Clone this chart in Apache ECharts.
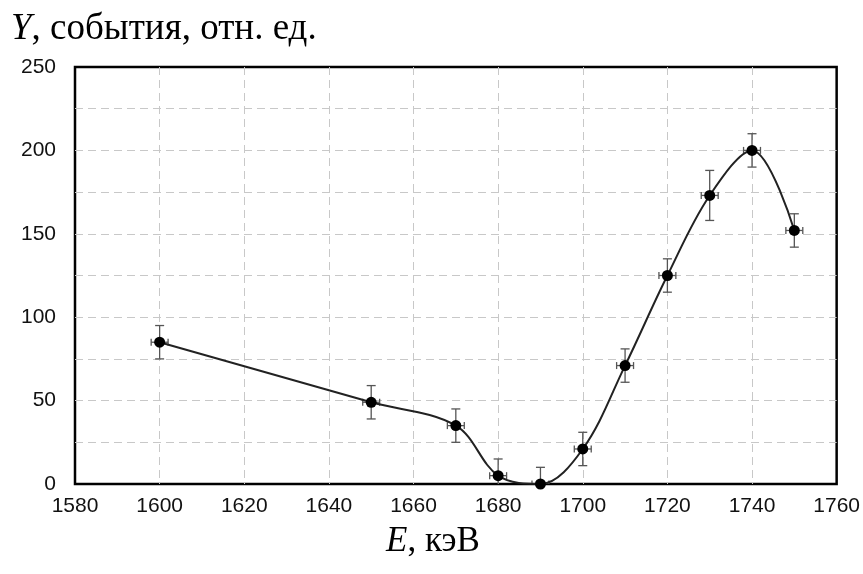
<!DOCTYPE html>
<html>
<head>
<meta charset="utf-8">
<script src="https://cdn.jsdelivr.net/npm/echarts@6/dist/echarts.min.js"></script>
<style>
  html, body { margin: 0; padding: 0; background: #fff; }
  #chart { width: 863px; height: 574px; }
</style>
</head>
<body>
<div id="chart"></div>
<script>
// Energy points (keV), yields (relative units) and their uncertainties
const energies = [1600, 1650, 1670, 1680, 1690, 1700, 1710, 1720, 1730, 1740, 1750];
const yields   = [85, 49, 35, 5, 0, 21, 71, 125, 173, 200, 152];
const yErrors  = [10, 10, 10, 10, 10, 10, 10, 10, 15, 10, 10];
const xErrors  = [2, 2, 2, 2, 2, 2, 2, 2, 2, 2, 2];

const xTicks = { min: 1580, max: 1760, step: 20 };
const yTicks = { min: 0, max: 250, step: 25, labelStep: 50 };

const lineData = energies.map((e, i) => [e, yields[i]]);
const errData = energies.map((e, i) => [e, yields[i], xErrors[i], yErrors[i]]);

const chart = echarts.init(document.getElementById('chart'), null, { renderer: 'canvas' });

const serif = '"Liberation Serif", "Times New Roman", serif';
const sans = '"Liberation Sans", Arial, sans-serif';

function renderErrorBar(params, api) {
  const x = api.value(0), y = api.value(1), ex = api.value(2), ey = api.value(3);
  const top = api.coord([x, y + ey]);
  const bot = api.coord([x, y - ey]);
  const left = api.coord([x - ex, y]);
  const right = api.coord([x + ex, y]);
  const capW = 4.5, capH = 3.5;
  const style = { stroke: '#555', lineWidth: 1.3 };
  const seg = (x1, y1, x2, y2) => ({ type: 'line', shape: { x1, y1, x2, y2 }, style });
  return {
    type: 'group',
    children: [
      seg(top[0], top[1], bot[0], bot[1]),
      seg(top[0] - capW, top[1], top[0] + capW, top[1]),
      seg(bot[0] - capW, bot[1], bot[0] + capW, bot[1]),
      seg(left[0], left[1], right[0], right[1]),
      seg(left[0], left[1] - capH, left[0], left[1] + capH),
      seg(right[0], right[1] - capH, right[0], right[1] + capH)
    ]
  };
}

const gridLine = { show: true, showMinLine: false, showMaxLine: false,
  lineStyle: { color: '#c8c8c8', width: 1, type: [8, 5] } };

const titleStyle = (size) => ({
  fontFamily: serif,
  fontSize: size,
  fontWeight: 'normal',
  color: '#000',
  rich: { i: { fontFamily: serif, fontSize: size, fontStyle: 'italic', color: '#000' } }
});

chart.setOption({
  animation: false,
  backgroundColor: '#fff',
  title: [
    { text: '{i|Y}, события, отн. ед.', left: 6, top: 6, textStyle: titleStyle(37) },
    { text: '{i|E}, кэВ', left: 381, top: 519, textStyle: titleStyle(35) }
  ],
  grid: {
    left: 75, right: 21, top: 67, bottom: 90,
    show: true,
    borderColor: '#000',
    borderWidth: 2.5,
    backgroundColor: 'transparent'
  },
  xAxis: {
    type: 'value',
    min: xTicks.min,
    max: xTicks.max,
    interval: xTicks.step,
    axisLine: { show: false },
    axisTick: { show: false },
    axisLabel: { fontFamily: sans, fontSize: 21, color: '#111', margin: 12, formatter: v => String(v) },
    splitLine: gridLine
  },
  yAxis: {
    type: 'value',
    min: yTicks.min,
    max: yTicks.max,
    interval: yTicks.step,
    axisLine: { show: false },
    axisTick: { show: false },
    axisLabel: {
      fontFamily: sans, fontSize: 21, color: '#111', margin: 19,
      formatter: v => (v % yTicks.labelStep === 0 ? String(v) : '')
    },
    splitLine: gridLine
  },
  series: [
    {
      type: 'line',
      data: lineData,
      smooth: 0.35,
      clip: true,
      lineStyle: { color: '#222', width: 2 },
      symbol: 'circle',
      symbolSize: 11,
      itemStyle: { color: '#000' },
      z: 3
    },
    {
      type: 'custom',
      data: errData,
      clip: true,
      renderItem: renderErrorBar,
      z: 2
    }
  ]
});
</script>
</body>
</html>
